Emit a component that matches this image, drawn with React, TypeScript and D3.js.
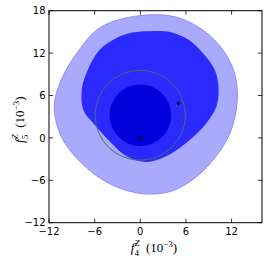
import * as d3 from 'd3';

// contour outlines (units of 1e-3)
const outerContour: [number, number][] = [
  [1.0, 17.4], [4.7, 17.1], [8.3, 15.2], [10.9, 12.4], [12.4, 9.1],
  [12.75, 5.35], [11.8, 0.7], [9.6, -3.1], [6.9, -5.9], [3.9, -7.6],
  [0.35, -7.9], [-3.2, -6.9], [-6.2, -5.0], [-8.9, -2.2], [-10.6, 0.7],
  [-11.3, 4.6], [-10.4, 8.2], [-8.4, 11.9], [-5.8, 15.2], [-3.2, 16.6],
];

const midContour: [number, number][] = [
  [1.2, 15.1], [3.9, 15.0], [6.5, 13.8], [8.3, 11.9], [9.8, 9.6],
  [10.3, 6.8], [10.0, 4.4], [8.7, 2.1], [6.5, -0.3], [3.4, -2.6],
  [0.8, -3.4], [-1.8, -2.6], [-4.0, -0.5], [-6.2, 2.1], [-7.5, 4.0],
  [-7.7, 6.8], [-7.1, 9.1], [-5.4, 12.4], [-3.2, 14.1], [-1.0, 14.9],
];

// inner filled region and outlined circle: centre, radii (x, y)
const innerRegion = { cx: 0, cy: 3.2, rx: 4.05, ry: 4.37 };
const ringOutline = { cx: 0, cy: 3.2, rx: 5.93, ry: 6.36 };

const points: [number, number][] = [
  [0, 0],
  [5.0, 4.9],
];

const xTicks = [-12, -6, 0, 6, 12];
const yTicks = [-12, -6, 0, 6, 12, 18];

const W = 267;
const H = 262;
const M = { left: 49, right: 262, top: 10.7, bottom: 222.7 };

const fmt = (v: number) => (v < 0 ? `\u2212${Math.abs(v)}` : `${v}`);

function AxisLabel({ sub }: { sub: string }) {
  return (
    <>
      <tspan fontStyle="italic">f</tspan>
      <tspan fontSize={9} dy={3.5}>{sub}</tspan>
      <tspan fontSize={9} fontStyle="italic" dx={-4.5} dy={-10}>Z</tspan>
      <tspan dy={6.5}>{'\u2002(10'}</tspan>
      <tspan fontSize={9} dy={-5.5}>{'\u22123'}</tspan>
      <tspan dy={5.5}>)</tspan>
    </>
  );
}

export default function App() {
  const x = d3.scaleLinear().domain([-12, 16]).range([M.left, M.right]);
  const y = d3.scaleLinear().domain([-12, 18]).range([M.bottom, M.top]);

  const blob = d3
    .line<[number, number]>()
    .x((d) => x(d[0]))
    .y((d) => y(d[1]))
    .curve(d3.curveCatmullRomClosed.alpha(0.5));

  const tickLen = 4;
  const labelFont = 'DejaVu Sans, sans-serif';
  const mathFont = 'Liberation Serif, serif';

  return (
    <svg
      width={W}
      height={H}
      style={{ position: 'absolute', left: 0, top: 0, background: '#fff' }}
    >
      <defs>
        <clipPath id="plot">
          <rect x={M.left} y={M.top} width={M.right - M.left} height={M.bottom - M.top} />
        </clipPath>
      </defs>
      <g clipPath="url(#plot)">
        <path d={blob(outerContour) ?? ''} fill="#aaaafd" stroke="#8c8cff" strokeWidth={1} />
        <path d={blob(midContour) ?? ''} fill="#2a2aff" />
        <ellipse
          cx={x(innerRegion.cx)}
          cy={y(innerRegion.cy)}
          rx={x(innerRegion.rx) - x(0)}
          ry={y(0) - y(innerRegion.ry)}
          fill="#0000da"
        />
        <ellipse
          cx={x(ringOutline.cx)}
          cy={y(ringOutline.cy)}
          rx={x(ringOutline.rx) - x(0)}
          ry={y(0) - y(ringOutline.ry)}
          fill="none"
          stroke="#3f6f6c"
          strokeWidth={1}
        />
        {points.map((p, i) => (
          <circle key={i} cx={x(p[0])} cy={y(p[1])} r={1.6} fill="#000" />
        ))}
      </g>

      <rect
        x={M.left}
        y={M.top}
        width={M.right - M.left}
        height={M.bottom - M.top}
        fill="none"
        stroke="#000"
        strokeWidth={1}
      />

      {xTicks.map((t) => (
        <g key={`x${t}`}>
          <line x1={x(t)} x2={x(t)} y1={M.bottom} y2={M.bottom - tickLen} stroke="#000" strokeWidth={0.8} />
          <line x1={x(t)} x2={x(t)} y1={M.top} y2={M.top + tickLen} stroke="#000" strokeWidth={0.8} />
          <text x={x(t)} y={234.5} textAnchor="middle" fontSize={10} fontFamily={labelFont}>
            {fmt(t)}
          </text>
        </g>
      ))}
      {yTicks.map((t) => (
        <g key={`y${t}`}>
          <line x1={M.left} x2={M.left + tickLen} y1={y(t)} y2={y(t)} stroke="#000" strokeWidth={0.8} />
          <line x1={M.right} x2={M.right - tickLen} y1={y(t)} y2={y(t)} stroke="#000" strokeWidth={0.8} />
          <text x={45.5} y={y(t) + 3.6} textAnchor="end" fontSize={10} fontFamily={labelFont}>
            {fmt(t)}
          </text>
        </g>
      ))}

      <text x={154} y={252} textAnchor="middle" fontSize={13} fontFamily={mathFont}>
        <AxisLabel sub="4" />
      </text>

      <text
        transform={`translate(24,${(M.top + M.bottom) / 2 + 3}) rotate(-90)`}
        textAnchor="middle"
        fontSize={13}
        fontFamily={mathFont}
      >
        <AxisLabel sub="5" />
      </text>
    </svg>
  );
}
